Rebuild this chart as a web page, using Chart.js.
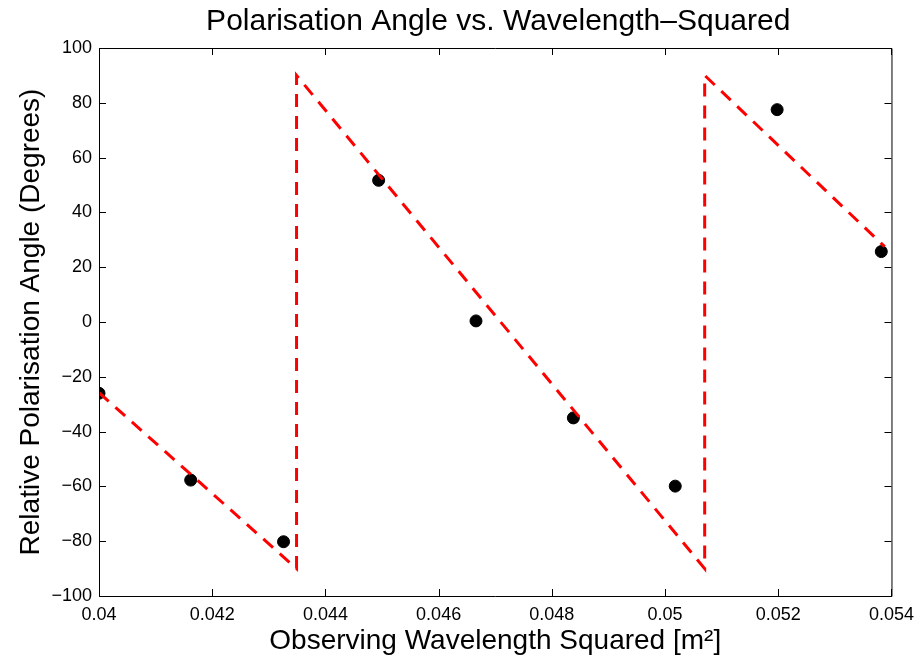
<!DOCTYPE html>
<html lang="en">
<head>
  <meta charset="UTF-8">
  <title>Polarisation Angle vs. Wavelength-Squared</title>
  <script src="https://cdn.jsdelivr.net/npm/chart.js"></script>
  <style>
    html, body { margin: 0; padding: 0; background: #fff; }
    #grafico { display: block; }
  </style>
</head>
<body>
  <canvas id="grafico" width="922" height="661"></canvas>
  <script>
    // measured points (lambda^2 in m^2, angle in degrees)
    const lambda2 = [0.04, 0.04162, 0.04326, 0.04494, 0.04666, 0.04838, 0.05018, 0.05198, 0.05382];
    const angulo = [-26, -57.7, -80.2, 51.7, 0.4, -35, -59.9, 77.5, 25.7];

    // fitted (wrapped) line
    const ajusteX = [0.04, 0.04349, 0.04349, 0.0507, 0.0507, 0.05388];
    const ajusteY = [-25.8, -90, 90, -90, 90, 27.5];

    const xTicks = [0.04, 0.042, 0.044, 0.046, 0.048, 0.05, 0.052, 0.054];
    const yTicks = [-100, -80, -60, -40, -20, 0, 20, 40, 60, 80, 100];

    const titulo = 'Polarisation Angle vs. Wavelength\u2013Squared';
    const fonte = 'Liberation Sans, Arial, Helvetica, sans-serif';

    // title centred over the plot box, frame with inward ticks on all four sides
    const moldura = {
      id: 'moldura',
      afterDraw(chart) {
        const { ctx, chartArea: a, scales } = chart;
        const len = 7;
        ctx.save();
        ctx.fillStyle = '#000';
        ctx.font = '30px ' + fonte;
        ctx.textAlign = 'center';
        ctx.textBaseline = 'middle';
        ctx.fillText(titulo, (a.left + a.right) / 2 + 3, 22);

        ctx.strokeStyle = '#000';
        ctx.lineWidth = 1;
        ctx.beginPath();
        ctx.rect(a.left + 0.5, a.top + 0.5, a.right - a.left, a.bottom - a.top);
        xTicks.forEach(v => {
          const px = Math.round(scales.x.getPixelForValue(v)) + 0.5;
          ctx.moveTo(px, a.bottom); ctx.lineTo(px, a.bottom - len);
          ctx.moveTo(px, a.top); ctx.lineTo(px, a.top + len);
        });
        yTicks.forEach(v => {
          const py = Math.round(scales.y.getPixelForValue(v)) + 0.5;
          ctx.moveTo(a.left, py); ctx.lineTo(a.left + len, py);
          ctx.moveTo(a.right, py); ctx.lineTo(a.right - len, py);
        });
        ctx.stroke();
        ctx.restore();
      }
    };

    new Chart(document.getElementById('grafico'), {
      type: 'scatter',
      data: {
        datasets: [
          {
            label: 'Ajuste',
            data: ajusteX.map((x, i) => ({ x, y: ajusteY[i] })),
            showLine: true,
            borderColor: '#ff0000',
            borderWidth: 3,
            borderDash: [13, 9],
            pointRadius: 0,
            order: 0
          },
          {
            label: 'Medidas',
            data: lambda2.map((x, i) => ({ x, y: angulo[i] })),
            backgroundColor: '#000',
            borderColor: '#000',
            pointRadius: 6,
            order: 1
          }
        ]
      },
      options: {
        responsive: false,
        animation: false,
        layout: { padding: { left: 0, right: 26, top: 48, bottom: 0 } },
        plugins: {
          legend: { display: false },
          tooltip: { enabled: false },
          title: { display: false }
        },
        scales: {
          x: {
            type: 'linear',
            min: 0.04,
            max: 0.054,
            afterBuildTicks: s => { s.ticks = xTicks.map(v => ({ value: v })); },
            afterFit: s => { s.height = 65; },
            grid: { display: false, drawTicks: false },
            border: { display: false },
            ticks: {
              color: '#000',
              padding: 8,
              maxRotation: 0,
              font: { family: fonte, size: 18 },
              callback: v => String(Number(v.toFixed(3)))
            },
            title: {
              display: true,
              text: 'Observing Wavelength Squared [m\u00b2]',
              color: '#000',
              font: { family: fonte, size: 28 },
              padding: { top: 0, bottom: 3 }
            }
          },
          y: {
            min: -100,
            max: 100,
            afterBuildTicks: s => { s.ticks = yTicks.map(v => ({ value: v })); },
            afterFit: s => { s.width = 99; },
            grid: { display: false, drawTicks: false },
            border: { display: false },
            ticks: {
              color: '#000',
              padding: 7,
              font: { family: fonte, size: 18 },
              callback: v => String(v).replace('-', '\u2212')
            },
            title: {
              display: true,
              text: 'Relative Polarisation Angle (Degrees)',
              color: '#000',
              font: { family: fonte, size: 28 },
              padding: { top: 14, bottom: 0 }
            }
          }
        }
      },
      plugins: [moldura]
    });
  </script>
</body>
</html>
